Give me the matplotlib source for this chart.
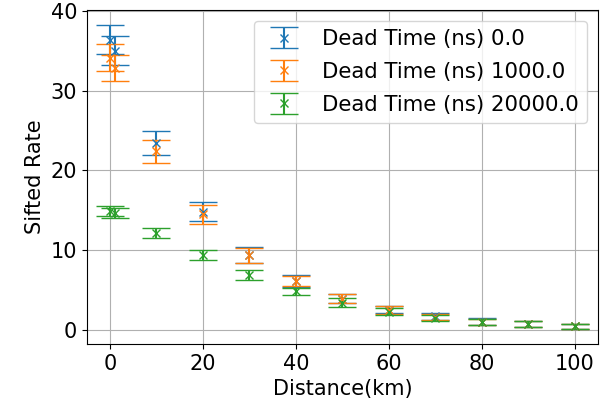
import matplotlib
matplotlib.use('Agg')
from matplotlib import pyplot as plt

distance = [0, 1, 10, 20, 30, 40, 50, 60, 70, 80, 90, 100]

labels = ['Dead Time (ns) 0.0', 'Dead Time (ns) 1000.0', 'Dead Time (ns) 20000.0']

rate_0 = [36.4, 35.0, 23.4, 14.8, 9.4, 6.1, 3.9, 2.5, 1.65, 1.0, 0.7, 0.42]
err_0 = [1.8, 1.85, 1.5, 1.2, 1.0, 0.73, 0.6, 0.46, 0.4, 0.4, 0.4, 0.33]

rate_1000 = [34.1, 32.8, 22.4, 14.45, 9.3, 6.1, 3.9, 2.45, 1.6, 0.95, 0.7, 0.42]
err_1000 = [1.7, 1.6, 1.45, 1.15, 1.0, 0.58, 0.6, 0.46, 0.38, 0.4, 0.4, 0.33]

rate_20000 = [14.9, 14.6, 12.1, 9.35, 6.9, 4.8, 3.4, 2.25, 1.5, 0.94, 0.7, 0.42]
err_20000 = [0.63, 0.6, 0.6, 0.63, 0.63, 0.45, 0.6, 0.46, 0.36, 0.4, 0.42, 0.33]


def main():
    plt.rcParams['font.size'] = 15
    fig, ax = plt.subplots(figsize=(6.07, 4.01), dpi=100)
    fig.subplots_adjust(left=0.143, right=0.985, top=0.975, bottom=0.142)

    series = [(rate_0, err_0), (rate_1000, err_1000), (rate_20000, err_20000)]
    for (rate, err), lab in zip(series, labels):
        ax.errorbar(distance, rate, yerr=err, fmt='x', capsize=10, label=lab)

    ax.set_xlabel('Distance(km)')
    ax.set_ylabel('Sifted Rate')
    ax.set_xticks([0, 20, 40, 60, 80, 100])
    ax.set_yticks([0, 10, 20, 30, 40])
    ax.grid(True)
    ax.legend(loc='upper right', fontsize=15.3, labelspacing=0.6)
    fig.savefig('out.png')


if __name__ == "__main__":
    main()
